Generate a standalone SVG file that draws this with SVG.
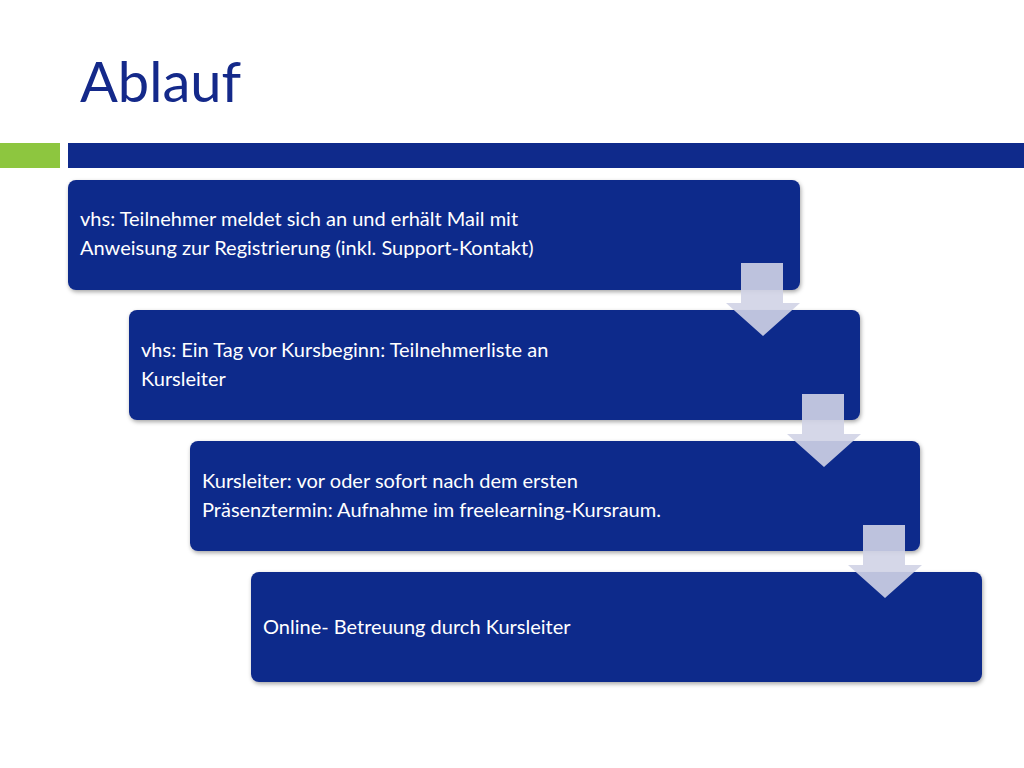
<svg xmlns="http://www.w3.org/2000/svg" width="1024" height="768" viewBox="0 0 1024 768">
<defs>
<style>
.box{fill:#0f2a8b;filter:url(#sh)}
.t{font-family:"Lato","Open Sans",sans-serif;font-size:20px;fill:#ffffff}
.arr{fill:#d0d3e6;fill-opacity:0.9}
</style>
<filter id="sh" x="-5%" y="-10%" width="110%" height="130%"><feDropShadow dx="1" dy="2" stdDeviation="2" flood-color="#000" flood-opacity="0.35"/></filter>
</defs>
<rect width="1024" height="768" fill="#ffffff"/>
<text x="80" y="102" font-family="Lato,'Open Sans',sans-serif" font-size="56" fill="#14298a">Ablauf</text>
<rect x="0" y="143" width="60" height="25" fill="#8dc63f"/>
<rect x="68" y="143" width="956" height="25" fill="#0f2a8b"/>
<g id="node1"><rect class="box" x="68" y="180" width="732" height="110" rx="8"/>
<text class="t" x="80" y="226">vhs: Teilnehmer meldet sich an und erhält Mail mit</text>
<text class="t" x="80" y="255">Anweisung zur Registrierung (inkl. Support-Kontakt)</text></g>
<g id="node2"><rect class="box" x="129" y="310" width="731" height="110" rx="8"/>
<text class="t" x="141" y="357">vhs: Ein Tag vor Kursbeginn: Teilnehmerliste an</text>
<text class="t" x="141" y="386">Kursleiter</text></g>
<g id="node3"><rect class="box" x="190" y="441" width="730" height="110" rx="8"/>
<text class="t" x="202" y="488">Kursleiter: vor oder sofort nach dem ersten</text>
<text class="t" x="202" y="517">Präsenztermin: Aufnahme im freelearning-Kursraum.</text></g>
<g id="node4"><rect class="box" x="251" y="572" width="731" height="110" rx="8"/>
<text class="t" x="263" y="634">Online- Betreuung durch Kursleiter</text></g>
<g id="connectors">
<path class="arr" d="M741 263H783V303H800L763 336L726 303H741Z"/>
<path class="arr" d="M802 394H844V434H861L824 467L787 434H802Z"/>
<path class="arr" d="M863 525H905V565H922L885 598L848 565H863Z"/>
</g>
</svg>
